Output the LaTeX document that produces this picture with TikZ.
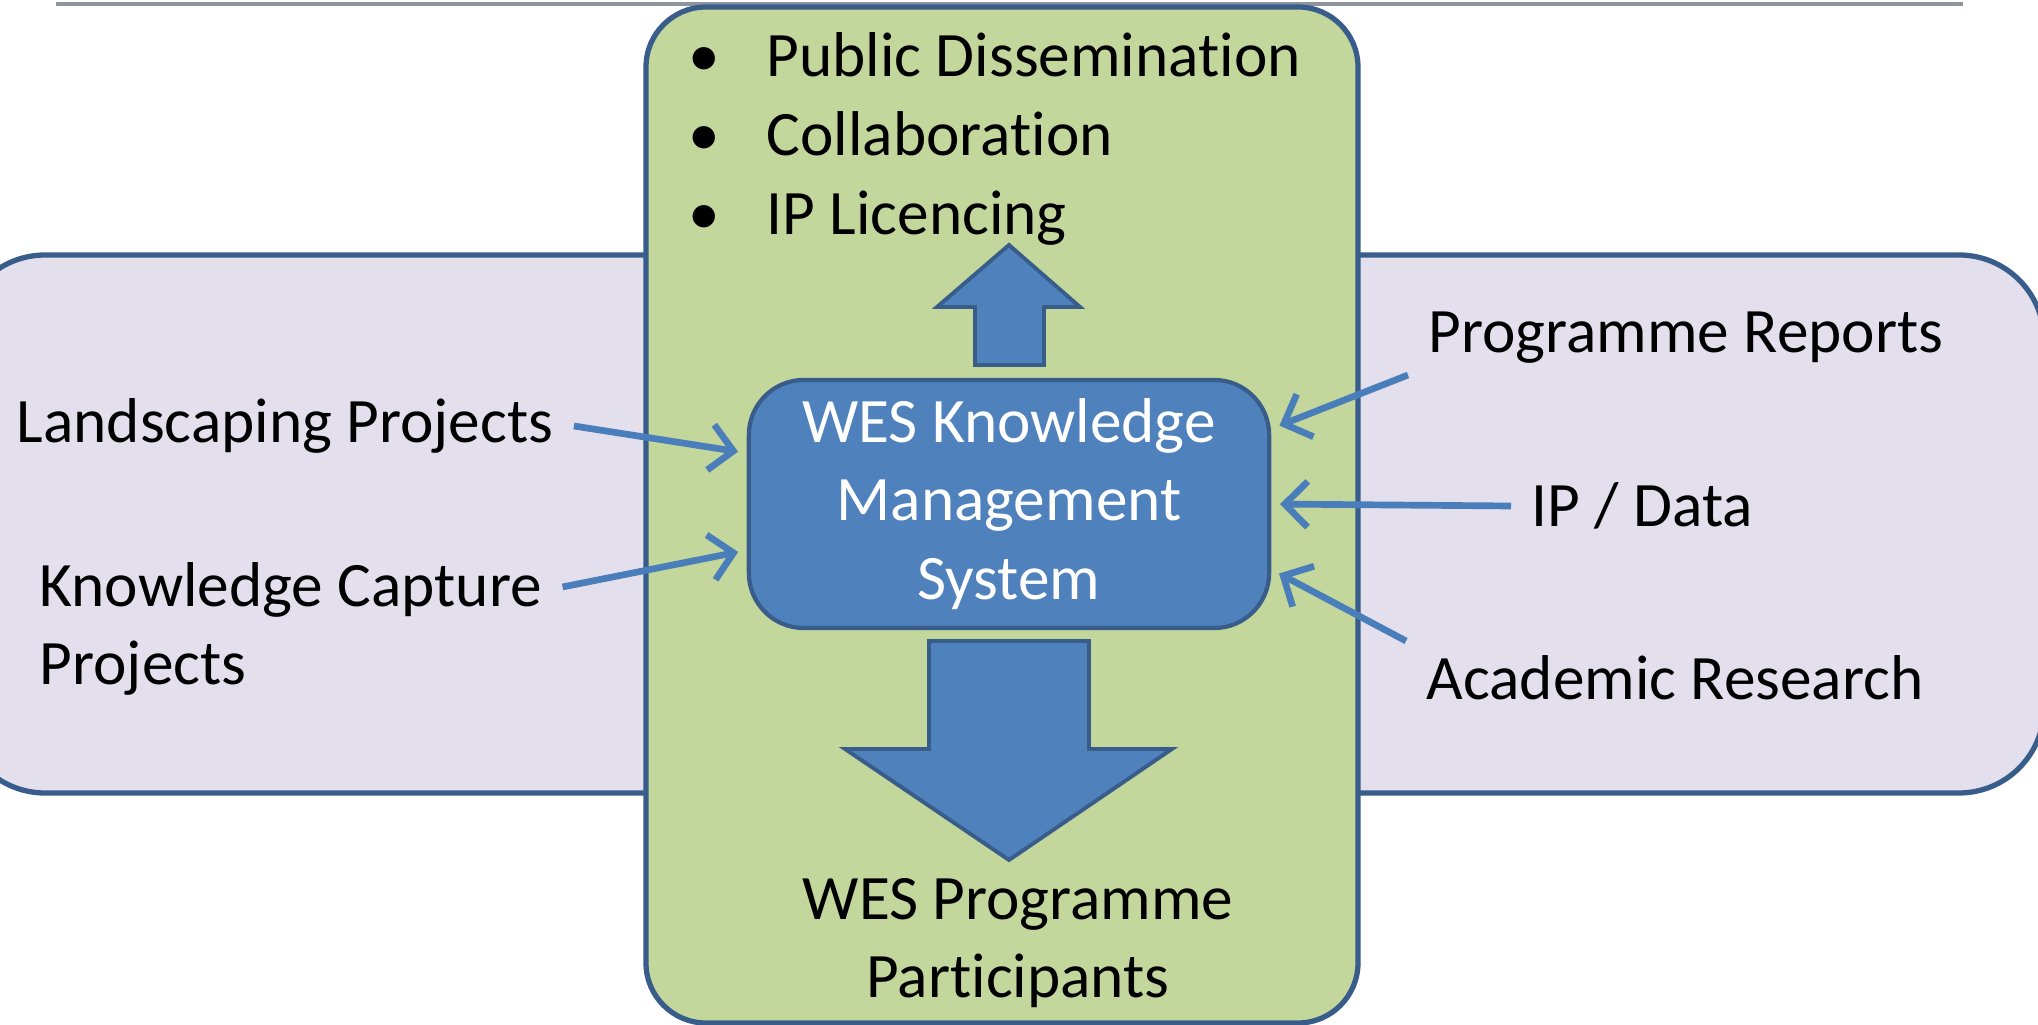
\documentclass[tikz,border=0pt]{standalone}
\usepackage{fontspec}
\setmainfont[Ligatures=NoCommon]{Carlito}
\usepackage{tikz}
\usetikzlibrary{arrows.meta, positioning}

\definecolor{wesblue}{HTML}{4F81BD}
\definecolor{wesline}{HTML}{385D8A}
\definecolor{wesarrow}{HTML}{4A7EBB}
\definecolor{wesgreen}{HTML}{C3D69B}
\definecolor{weslilac}{HTML}{E4DFEC}
\definecolor{wesrule}{HTML}{8E949B}

\begin{document}
\begin{tikzpicture}[x=0.01cm,y=-0.01cm,
    font=\fontsize{18}{22.4}\selectfont]
  \tikzstyle{txt}=[inner sep=0.2cm, text=black]
  \tikzstyle{kmsbox}=[draw=wesline, fill=wesblue, line width=1.2pt,
    rounded corners=0.55cm, minimum width=5.2cm, minimum height=2.48cm,
    inner sep=0pt, align=center, text=white]
  \tikzstyle{block}=[draw=wesline, fill=wesblue, line width=1.1pt]
  \tikzstyle{link}=[draw=wesarrow, line width=1.9pt,
    -{Straight Barb[length=6.5pt,width=13pt]}, shorten >=2.5pt]

  \path[use as bounding box, clip] (0,0) rectangle (2038,1025);

  % separator rule along the top
  \draw[wesrule, line width=1pt] (56,4) -- (1963,4);

  % inputs band and outputs column
  \draw[draw=wesline, fill=weslilac, line width=1.5pt, rounded corners=0.85cm]
    (-40,255) rectangle (2044,793);
  \draw[draw=wesline, fill=wesgreen, line width=1.5pt, rounded corners=0.6cm]
    (646,7) rectangle (1358,1023);

  % outputs
  \node[inner sep=0pt, anchor=west, align=left] (out) at (688,139)
    {\makebox[0.78cm][l]{\textbullet}Public Dissemination\\
     \makebox[0.78cm][l]{\textbullet}Collaboration\\
     \makebox[0.78cm][l]{\textbullet}IP Licencing};

  \draw[block] (1009,245) -- (1080,307) -- (1044,307) -- (1044,365)
    -- (975,365) -- (975,307) -- (937,307) -- cycle;

  \node[kmsbox] (kms) at (1009,504) {WES Knowledge\\Management\\System};

  \draw[block] (929,641) -- (1089,641) -- (1089,749) -- (1172,749)
    -- (1009,860) -- (845,749) -- (929,749) -- cycle;

  \node[txt, align=center] (wpp) at (1018,943) {WES Programme\\Participants};

  % sources on the left
  \node[txt] (lp) at (285,426) {Landscaping Projects};
  \node[txt, anchor=west, align=left] (kcp) at (19,629)
    {Knowledge Capture\\Projects};

  % sources on the right
  \node[txt, anchor=west] (pr)  at (1408,338) {Programme Reports};
  \node[txt, anchor=west] (ipd) at (1511,506) {IP / Data};
  \node[txt, anchor=west] (ar)  at (1406,678) {Academic Research};

  \path
  (lp.east)                  edge[link] (kms.169)
  ([yshift=0.42cm]kcp.east)  edge[link] (kms.190)
  ([yshift=-0.37cm]pr.west)  edge[link] (kms.16)
  (ipd.west)                 edge[link] (kms.0)
  ([yshift=0.37cm]ar.west)   edge[link] (kms.346)
  ;
\end{tikzpicture}
\end{document}
